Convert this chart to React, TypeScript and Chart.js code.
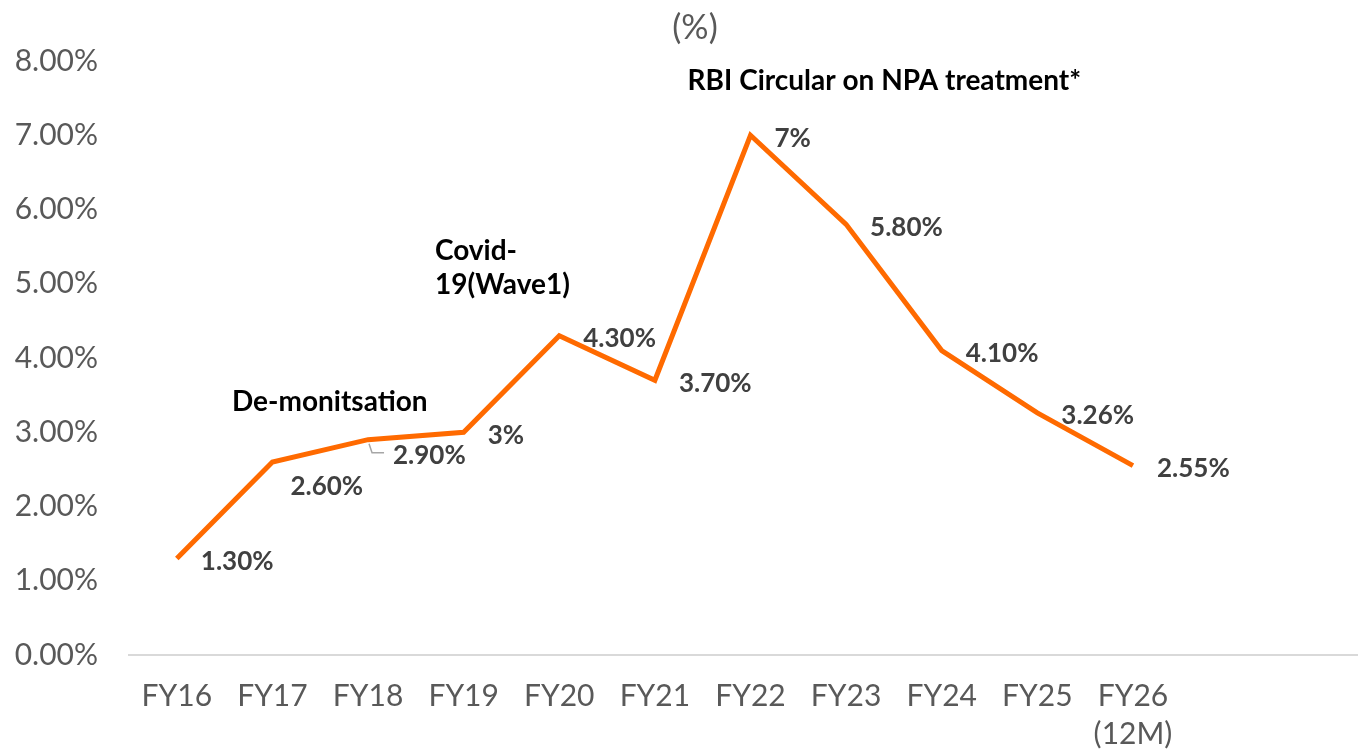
import React, { useEffect, useRef } from 'react';
import { Chart, registerables } from 'chart.js';

Chart.register(...registerables);

// ---------- data ----------
const categories: (string | string[])[] = [
  'FY16', 'FY17', 'FY18', 'FY19', 'FY20', 'FY21', 'FY22', 'FY23', 'FY24', 'FY25', ['FY26', '(12M)'], '', '',
];
const grossNpa: (number | null)[] = [1.3, 2.6, 2.9, 3.0, 4.3, 3.7, 7.0, 5.8, 4.1, 3.26, 2.55, null, null];
const valueLabels: string[] = ['1.30%', '2.60%', '2.90%', '3%', '4.30%', '3.70%', '7%', '5.80%', '4.10%', '3.26%', '2.55%'];
const yMin = 0;
const yMax = 8;
const yStep = 1;
const titleText = '(%)';
const noteTexts: string[][] = [['De-monitsation'], ['Covid-', '19(Wave1)'], ['RBI Circular on NPA treatment*']];
// anchor of each note: category index (fractional) and value level
const noteAnchorIndex: number[] = [1.6, 2.7, 7.4];
const noteAnchorLevel: number[] = [3.41, 5.44, 7.73];
const noteAlign: CanvasTextAlign[] = ['center', 'left', 'center'];

// ---------- styling ----------
const FONT = 'Lato, "Open Sans", "DejaVu Sans", sans-serif';
const LINE_COLOR = '#FF6A00';
const TICK_COLOR = '#595959';
const LABEL_COLOR = '#404040';
const defaultShift: [number, number] = [24, 3];
const shiftOverrides: Record<number, [number, number]> = { 1: [18, 25], 2: [25, 16] };
const leaderIndex = 2;

const overlayPlugin = {
  id: 'overlay',
  afterDatasetsDraw(chart: any) {
    const ctx: CanvasRenderingContext2D = chart.ctx;
    const xs = chart.scales.x;
    const ys = chart.scales.y;
    ctx.save();

    // title
    ctx.fillStyle = TICK_COLOR;
    ctx.font = `34px ${FONT}`;
    ctx.textAlign = 'center';
    ctx.textBaseline = 'middle';
    ctx.fillText(titleText, 695, 28);

    // value labels
    ctx.font = `bold 26px ${FONT}`;
    ctx.fillStyle = LABEL_COLOR;
    ctx.textAlign = 'left';
    ctx.textBaseline = 'middle';
    valueLabels.forEach((txt, i) => {
      const v = grossNpa[i];
      if (v == null) return;
      const px = xs.getPixelForValue(i);
      const py = ys.getPixelForValue(v);
      const sh = shiftOverrides[i] || defaultShift;
      ctx.fillText(txt, px + sh[0], py + sh[1]);
      if (i === leaderIndex) {
        ctx.save();
        ctx.strokeStyle = '#a6a6a6';
        ctx.lineWidth = 1.5;
        ctx.beginPath();
        ctx.moveTo(px + 1, py + 4);
        ctx.lineTo(px + 4, py + 13);
        ctx.lineTo(px + 16, py + 13);
        ctx.stroke();
        ctx.restore();
      }
    });

    // event notes
    ctx.font = `bold 28px ${FONT}`;
    ctx.fillStyle = '#000000';
    noteTexts.forEach((lines, n) => {
      const x = xs.getPixelForValue(noteAnchorIndex[n]);
      const y = ys.getPixelForValue(noteAnchorLevel[n]);
      ctx.textAlign = noteAlign[n];
      lines.forEach((ln, k) => ctx.fillText(ln, x, y + k * 34));
    });

    ctx.restore();
  },
};

export default function App() {
  const ref = useRef<HTMLCanvasElement | null>(null);

  useEffect(() => {
    if (!ref.current) return;
    const chart = new Chart(ref.current, {
      type: 'line',
      data: {
        labels: categories as any,
        datasets: [
          {
            data: grossNpa,
            borderColor: LINE_COLOR,
            backgroundColor: LINE_COLOR,
            borderWidth: 5,
            pointRadius: 0,
            pointHoverRadius: 0,
            tension: 0,
            fill: false,
            spanGaps: false,
          },
        ],
      },
      options: {
        animation: false,
        responsive: false,
        maintainAspectRatio: false,
        events: [],
        layout: { padding: { top: 61, right: 0, bottom: 0, left: 0 } },
        plugins: {
          legend: { display: false },
          title: { display: false },
          tooltip: { enabled: false },
        },
        scales: {
          x: {
            offset: true,
            grid: { display: false, drawTicks: false },
            border: { display: true, color: '#d9d9d9', width: 2 },
            ticks: {
              color: TICK_COLOR,
              font: { family: FONT, size: 30, lineHeight: 1.27 },
              padding: 22,
              maxRotation: 0,
              autoSkip: false,
            },
            afterFit: (scale: any) => {
              scale.height = 97;
            },
          },
          y: {
            min: yMin,
            max: yMax,
            grid: { display: false, drawTicks: false },
            border: { display: false },
            ticks: {
              stepSize: yStep,
              color: TICK_COLOR,
              font: { family: FONT, size: 30 },
              padding: 31,
              callback: (v: any) => Number(v).toFixed(2) + '%',
            },
            afterFit: (scale: any) => {
              scale.width = 129;
            },
          },
        },
      },
      plugins: [overlayPlugin],
    });
    return () => chart.destroy();
  }, []);

  return (
    <div style={{ position: 'fixed', left: 0, top: 0, width: 1358, height: 752, overflow: 'hidden', background: '#fff' }}>
      <canvas ref={ref} width={1372} height={752} style={{ width: 1372, height: 752, display: 'block' }} />
    </div>
  );
}
